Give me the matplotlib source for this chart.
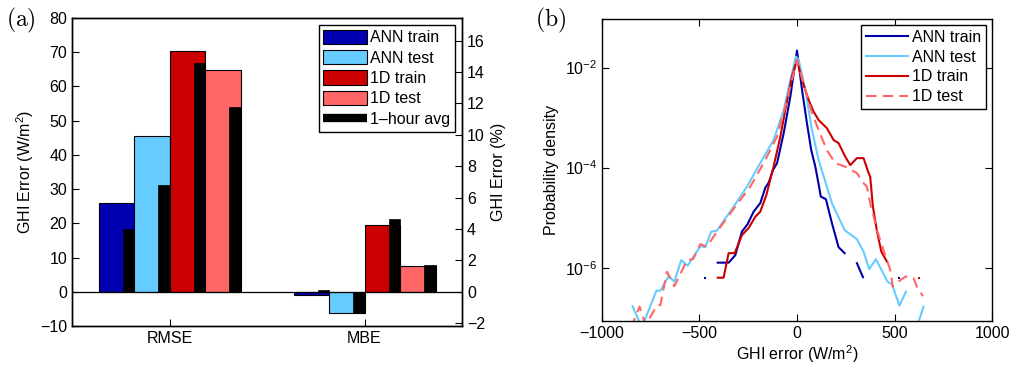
import numpy as np
import matplotlib
matplotlib.use('Agg')
import matplotlib.pyplot as plt
from matplotlib.lines import Line2D
from matplotlib.patches import Patch

plt.rcParams['font.family'] = ['Liberation Sans', 'DejaVu Sans']
plt.rcParams['font.size'] = 11.5
plt.rcParams['mathtext.fontset'] = 'custom'
plt.rcParams['mathtext.rm'] = 'Liberation Sans'
plt.rcParams['mathtext.it'] = 'Liberation Sans:italic'
plt.rcParams['axes.linewidth'] = 1.0

# ---- panel (a): bar data (W/m^2) ----
metrics = ['RMSE', 'MBE']
series = ['ANN train', 'ANN test', '1D train', '1D test']
bar_colors = ['#0000B0', '#66CCFF', '#CC0000', '#FF6666']
ann_train = [26.0, -1.0]
ann_test = [45.5, -6.2]
d1_train = [70.5, 19.5]
d1_test = [64.8, 7.4]
hour_ann_train = [18.3, 0.6]
hour_ann_test = [31.3, -6.2]
hour_d1_train = [67.0, 21.4]
hour_d1_test = [53.9, 7.9]
pct_per_wm2 = 0.218  # right axis scale (%) per W/m^2

# ---- panel (b): error pdfs, x in W/m^2, log10 of density ----
ann_train_x = [-406, -350, -316, -282, -253, -222, -188, -162, -145, -123, -102, -68, -34, 0,
               26, 51, 73, 94, 114, 122, 148, 179, 213, 244, np.nan, 307, 338]
ann_train_ld = [-5.90, -5.90, -5.75, -5.28, -5.13, -4.88, -4.71, -4.40, -4.30, -4.05, -3.91, -3.31,
                -2.58, -1.66, -2.45, -3.11, -3.65, -3.98, -4.40, -4.58, -4.63, -5.11, -5.59, -5.71,
                np.nan, -5.91, -6.19]
ann_train_dots_x = [-470, 524]
ann_train_dots_ld = [-6.2, -6.2]

ann_test_x = [-842, -800, -790, -720, -700, -657, -628, -593, -560, -495, -470, -439, -410, -316,
              -256, -188, -120, -68, -34, -5, 9, 43, 77, 111, 153, 179, 244, 307, 341, 370, 404,
              464, 486, 525, 558, np.nan, 605, 648]
ann_test_ld = [-6.77, -7.15, -7.15, -6.46, -6.46, -6.17, -6.28, -5.85, -5.96, -5.57, -5.59, -5.28,
               -5.26, -4.73, -4.38, -3.91, -3.45, -2.85, -2.25, -1.78, -1.85, -2.45, -3.25, -3.85,
               -4.38, -4.71, -5.25, -5.43, -5.68, -6.03, -5.83, -6.28, -6.33, -6.76, -6.48,
               np.nan, -7.30, -6.78]

d1_train_x = [-406, -376, -350, -319, -282, -248, -213, -188, -157, -120, -85, -60, -26, 0,
              26, 60, 85, 111, 153, 188, 213, 247, 273, 307, 341, 367, 375, 389, 410, 432, 461]
d1_train_ld = [-6.20, -6.20, -5.71, -5.71, -5.35, -5.21, -4.98, -4.88, -4.55, -3.98, -3.38, -2.85,
               -2.18, -1.85, -2.25, -2.65, -2.88, -3.05, -3.21, -3.45, -3.51, -3.78, -3.95, -3.81,
               -3.81, -4.11, -4.18, -4.78, -5.28, -5.68, -5.88]
d1_train_dots_x = [623]
d1_train_dots_ld = [-6.2]

d1_test_x = [-850, -806, -775, -717, -700, -666, -628, -563, -532, -495, -461, -410, -316, -239,
             -171, -102, -60, -26, 0, 43, 77, 111, 153, 196, 247, 307, 341, 358, 375, 410, 443,
             478, 491, 529, 555, 580, 597, 614, 645]
d1_test_ld = [-7.20, -6.78, -7.15, -6.75, -6.75, -6.08, -6.37, -5.85, -5.83, -5.53, -5.58, -5.28,
              -4.78, -4.38, -3.91, -3.38, -2.78, -2.25, -1.85, -2.45, -2.91, -3.25, -3.65, -3.91,
              -3.98, -4.11, -4.31, -4.38, -4.71, -5.25, -5.65, -6.05, -6.38, -6.25, -6.18, -6.18,
              -6.21, -6.38, -6.57]

fig = plt.figure(figsize=(10.13, 3.71), dpi=100)

# ================= panel (a) =================
ax1 = fig.add_axes([0.0711, 0.1213, 0.385, 0.830])
pos = np.arange(1, len(metrics) + 1)
offsets = [-0.273, -0.091, 0.091, 0.273]
w = 0.182
bw = 0.058
main_vals = [ann_train, ann_test, d1_train, d1_test]
hour_vals = [hour_ann_train, hour_ann_test, hour_d1_train, hour_d1_test]
for vals, hv, off, c in zip(main_vals, hour_vals, offsets, bar_colors):
    ax1.bar(pos + off, vals, width=w, color=c, edgecolor='black', linewidth=0.8, zorder=2)
    ax1.bar(pos + off + w / 2 - bw / 2, hv, width=bw, color='black', edgecolor='black',
            linewidth=0.5, zorder=3)
ax1.axhline(0, color='black', lw=0.9, zorder=4)
ax1.set_xlim(0.5, 2.5)
ax1.set_ylim(-10, 80)
ax1.set_yticks(np.arange(-10, 81, 10))
ax1.set_xticks(pos)
ax1.set_xticklabels(metrics)
ax1.tick_params(direction='in', length=5, width=0.8, labelsize=11.5)
ax1.set_ylabel('GHI Error (W/m$^2$)', labelpad=3)

ax1r = ax1.twinx()
ax1r.set_ylim(-10 * pct_per_wm2, 80 * pct_per_wm2)
ax1r.set_yticks(np.arange(-2, 17, 2))
ax1r.tick_params(direction='in', length=5, width=0.8, labelsize=11.5)
ax1r.set_ylabel('GHI Error (%)', rotation=90, labelpad=4)

handles = [Patch(facecolor=c, edgecolor='black', linewidth=0.8) for c in bar_colors]
handles.append(Line2D([0], [0], color='black', lw=6, solid_capstyle='butt'))
leg = ax1.legend(handles, series + ['1\u2013hour avg'], loc='upper right',
                 bbox_to_anchor=(0.983, 0.978), fancybox=False, edgecolor='black',
                 framealpha=1, handlelength=2.75, handleheight=1.0, labelspacing=0.3,
                 handletextpad=0.2, borderpad=0.3, borderaxespad=0, fontsize=11.5)
leg.get_frame().set_linewidth(1.0)
leg.set_zorder(10)

fig.text(0.006, 0.985, r'$\mathrm{(a)}$', fontsize=17, va='top', ha='left', math_fontfamily='cm')

# ================= panel (b) =================
ax2 = fig.add_axes([0.594, 0.1356, 0.3855, 0.813])
line_specs = [
    (ann_train_x, ann_train_ld, '#0000A8', '-', 'ANN train'),
    (ann_test_x, ann_test_ld, '#66CCFF', '-', 'ANN test'),
    (d1_train_x, d1_train_ld, '#CC0000', '-', '1D train'),
    (d1_test_x, d1_test_ld, '#FF6666', (0, (5, 3)), '1D test'),
]
for xs, ld, c, ls, lab in line_specs:
    ax2.plot(xs, 10 ** np.array(ld), color=c, ls=ls, lw=1.5, label=lab)
ax2.plot(ann_train_dots_x, 10 ** np.array(ann_train_dots_ld), ls='none', marker='s', ms=1.5,
         color='#0000A8', mew=0)
ax2.plot(d1_train_dots_x, 10 ** np.array(d1_train_dots_ld), ls='none', marker='s', ms=1.5,
         color='#CC0000', mew=0)
ax2.set_yscale('log')
ax2.set_xlim(-1000, 1000)
ax2.set_ylim(10 ** -7.06, 10 ** -1.03)
ax2.set_xticks([-1000, -500, 0, 500, 1000])
ax2.set_yticks([1e-6, 1e-4, 1e-2])
ax2.minorticks_off()
ax2.tick_params(direction='in', length=5, width=0.8, labelsize=11.5, top=True, right=True)
ax2.set_xlabel('GHI error (W/m$^2$)', labelpad=2)
ax2.set_ylabel('Probability density', labelpad=4)
leg2 = ax2.legend(loc='upper right', bbox_to_anchor=(0.985, 0.98), fancybox=False,
                  edgecolor='black', framealpha=1, handlelength=2.6, labelspacing=0.3,
                  handletextpad=0.3, borderpad=0.3, borderaxespad=0, fontsize=11.5)
leg2.get_frame().set_linewidth(1.0)

fig.text(0.528, 0.985, r'$\mathrm{(b)}$', fontsize=17, va='top', ha='left', math_fontfamily='cm')

fig.savefig('out.png', dpi=100)
